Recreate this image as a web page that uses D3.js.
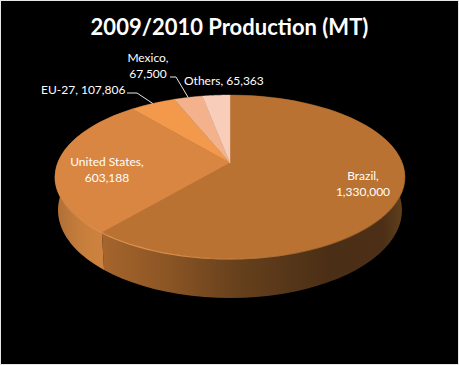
<!DOCTYPE html>
<html>
<head>
<meta charset="utf-8">
<script src="https://cdn.jsdelivr.net/npm/d3@7"></script>
<style>
  html, body { margin: 0; padding: 0; background: #000; }
  svg { display: block; }
  text { font-family: Lato, "Open Sans", sans-serif; fill: #fff; }
</style>
</head>
<body>
<svg id="chart" width="459" height="365"></svg>
<script>
const categories = ["Brazil", "United States", "EU-27", "Mexico", "Others"];
const production = [1330000, 603188, 107806, 67500, 65363];
const topColors = ["#b97232", "#d98642", "#f2994c", "#f4b28c", "#f8cdb9"];
const titleText = "2009/2010 Production (MT)";

const width = 459, height = 365;
const cx = 230, cy = 163;
const rx = 172.4, ry = 79.6;
const persp = 0.171;  // foreshortening of the tilted disc

const svg = d3.select("#chart");

// photo edge
svg.append("rect")
    .attr("x", 0.5).attr("y", 0.5)
    .attr("width", width - 1).attr("height", height - 1)
    .attr("fill", "#000").attr("stroke", "#e6e6e6").attr("stroke-width", 1);

const pie = d3.pie().sort(null).value(d => d);
const arcs = pie(production);

// pie angle -> point on the tilted top face
function project(a) {
    const u = Math.sin(a), v = -Math.cos(a);
    const w = 1 - persp * v;
    return [cx + rx * u / w, cy + ry * v / w];
}

// same point on the bottom rim
function projectBottom(a) {
    const p = project(a);
    return [cx + 0.983 * (p[0] - cx), 210 + (88 / 82) * (p[1] - 177)];
}

const steps = a => d3.range(0, 61).map(i => a.startAngle + (a.endAngle - a.startAngle) * i / 60);

const defs = svg.append("defs");

const brazilSide = defs.append("linearGradient")
    .attr("id", "side-0").attr("gradientUnits", "userSpaceOnUse")
    .attr("x1", 104).attr("x2", 404).attr("y1", 0).attr("y2", 0);
[[0, "#a5652c"], [0.2, "#8d5625"], [0.45, "#66401c"], [0.75, "#4a2e15"], [0.93, "#4c2f16"], [1, "#62401d"]]
    .forEach(s => brazilSide.append("stop").attr("offset", s[0]).attr("stop-color", s[1]));

const usSide = defs.append("linearGradient")
    .attr("id", "side-1").attr("gradientUnits", "userSpaceOnUse")
    .attr("x1", 57).attr("x2", 106).attr("y1", 0).attr("y2", 0);
[[0, "#b06f35"], [0.5, "#c77e3c"], [1, "#cf8340"]]
    .forEach(s => usSide.append("stop").attr("offset", s[0]).attr("stop-color", s[1]));

const rim = defs.append("linearGradient")
    .attr("id", "rim").attr("gradientUnits", "userSpaceOnUse")
    .attr("x1", 60).attr("x2", 400).attr("y1", 0).attr("y2", 0);
[[0, "#e0924f", 0.3], [0.15, "#eb9d58", 0.9], [0.5, "#d68a4a", 0.8], [0.85, "#9c6029", 0.5], [1, "#7b4d22", 0.2]]
    .forEach(s => rim.append("stop").attr("offset", s[0]).attr("stop-color", s[1]).attr("stop-opacity", s[2]));

// side wall, only the two big slices reach the front
svg.append("g").selectAll("path")
    .data(arcs.slice(0, 2))
    .join("path")
    .attr("d", d => {
        const pts = steps(d);
        const line = pts.map(project).concat(pts.slice().reverse().map(projectBottom));
        return d3.line()(line) + "Z";
    })
    .attr("fill", (d, i) => `url(#side-${i})`);

// top face
svg.append("g").selectAll("path")
    .data(arcs)
    .join("path")
    .attr("d", d => {
        const line = [[cx, cy]].concat(steps(d).map(project));
        return d3.line()(line) + "Z";
    })
    .attr("fill", (d, i) => topColors[i])
    .attr("stroke", (d, i) => topColors[i])
    .attr("stroke-width", 0.4);

// bright bevel along the front rim
svg.append("path")
    .attr("d", d3.line()(d3.range(0, 61).map(i => project(Math.PI * 0.55 + Math.PI * 0.9 * i / 60))))
    .attr("fill", "none")
    .attr("stroke", "url(#rim)")
    .attr("stroke-width", 1.2);

// leader lines end at the slice middle
const mid = a => project((a.startAngle + a.endAngle) / 2);
const leaders = [
    { arc: arcs[2], from: [127, 93], knee: [137, 93] },
    { arc: arcs[3], from: [170, 77], knee: [176, 77] }
];
svg.append("g").selectAll("path")
    .data(leaders)
    .join("path")
    .attr("d", d => d3.line()([d.from, d.knee, mid(d.arc)]))
    .attr("fill", "none")
    .attr("stroke", "#e8e8e8")
    .attr("stroke-width", 1);

svg.append("text")
    .attr("x", 229.5).attr("y", 35)
    .attr("text-anchor", "middle")
    .attr("font-size", 22)
    .attr("font-weight", 700)
    .text(titleText);

const fmt = d3.format(",");
const labels = [
    { i: 0, lines: [categories[0] + ",", fmt(production[0])], x: 363, y: 180, anchor: "middle" },
    { i: 1, lines: [categories[1] + ",", fmt(production[1])], x: 107, y: 166, anchor: "middle" },
    { i: 2, lines: [categories[2] + ", " + fmt(production[2])], x: 41, y: 94, anchor: "start" },
    { i: 3, lines: [categories[3] + ",", fmt(production[3])], x: 148, y: 62, anchor: "middle" },
    { i: 4, lines: [categories[4] + ", " + fmt(production[4])], x: 184, y: 85, anchor: "start" }
];
labels.forEach(l => {
    const t = svg.append("text")
        .attr("text-anchor", l.anchor)
        .attr("font-size", 12);
    l.lines.forEach((s, k) => {
        t.append("tspan").attr("x", l.x).attr("y", l.y + k * 16).text(s);
    });
});
</script>
</body>
</html>
